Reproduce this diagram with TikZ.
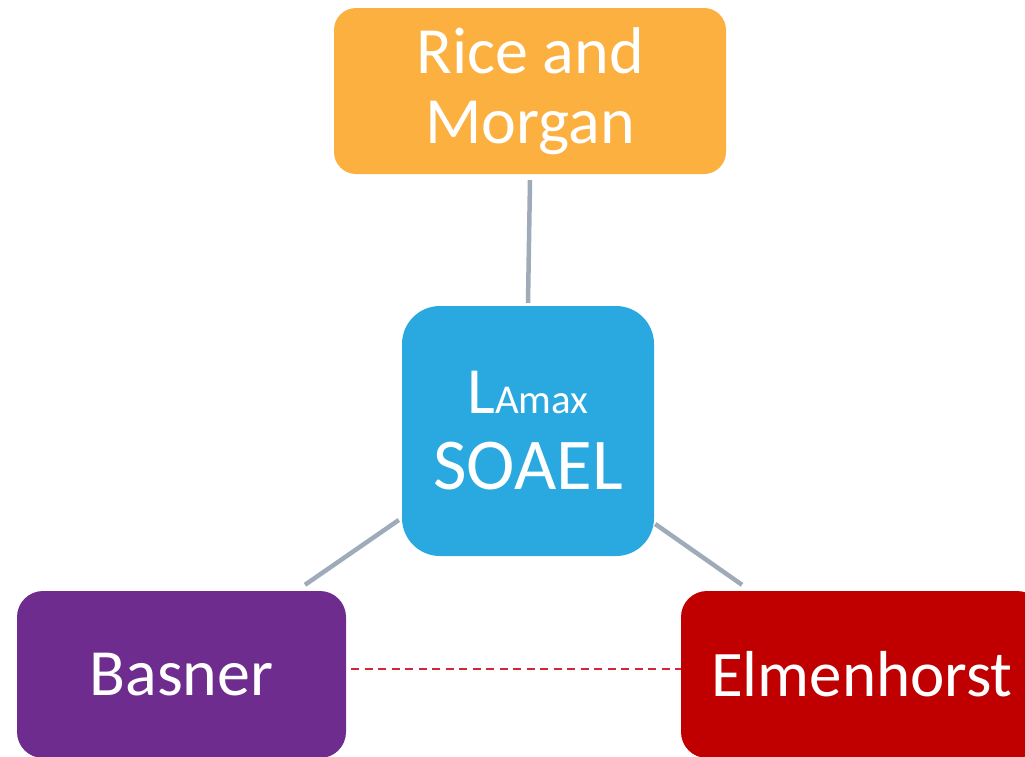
\documentclass[tikz,border=0pt]{standalone}
\usepackage{fontspec}
\setmainfont{Carlito}
\definecolor{cOrange}{HTML}{FBB040}
\definecolor{cBlue}{HTML}{29A9E0}
\definecolor{cPurple}{HTML}{6F2C8F}
\definecolor{cRed}{HTML}{C00000}
\definecolor{cGray}{HTML}{9FABB8}
\definecolor{cDash}{HTML}{D0283A}
\tikzset{
  box/.style={draw=none, text=white, align=center, inner sep=0pt,
    font=\fontsize{66}{70}\selectfont},
  link/.style={draw=cGray, line width=4.5pt},
  dashlink/.style={draw=cDash, line width=1.8pt, dash pattern=on 8pt off 5.5pt},
}
\begin{document}
\begin{tikzpicture}[x=1pt,y=-1pt]
\useasboundingbox (0,0) rectangle (1025,756);
\node[box, fill=cOrange, rounded corners=22pt, minimum width=392pt, minimum height=166pt] (rice) at (530,91) {Rice and\\Morgan};
\node[box, fill=cBlue, rounded corners=38pt, minimum width=252pt, minimum height=250pt,
  font=\fontsize{73}{76}\selectfont] (soael) at (528,431) {{\fontsize{66}{70}\selectfont L\fontsize{41}{44}\selectfont Amax}\\SOAEL};
\node[box, fill=cPurple, rounded corners=26pt, minimum width=329pt, minimum height=167pt] (basner) at (181.5,674.5) {Basner};
\node[box, fill=cRed, rounded corners=26pt, minimum width=362pt, minimum height=167pt,
  font=\fontsize{65}{70}\selectfont] (elm) at (862,674.5) {Elmenhorst};
\draw[link] ([yshift=-6pt]rice.south) -- ([yshift=3pt]soael.north);
\draw[link] ([xshift=-3pt,yshift=-89pt]soael.west) -- ([xshift=123.5pt,yshift=6pt]basner.north);
\draw[link] ([xshift=1pt,yshift=-93pt]soael.east) -- ([xshift=-120pt,yshift=6pt]elm.north);
\draw[dashlink] ([xshift=5pt,yshift=5.5pt]basner.east) -- ([yshift=5.5pt]elm.west);
\end{tikzpicture}
\end{document}
